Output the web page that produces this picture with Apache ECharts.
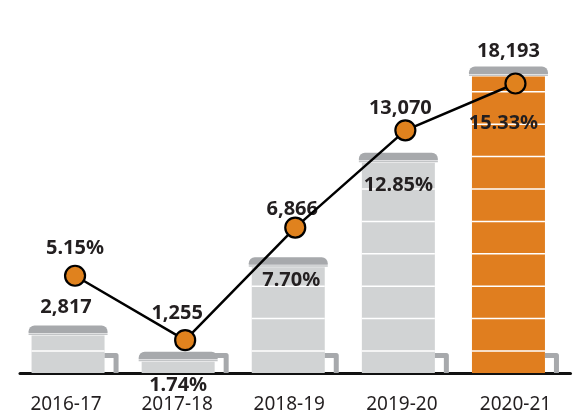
<!DOCTYPE html>
<html>
<head>
<meta charset="utf-8">
<script src="https://cdn.jsdelivr.net/npm/echarts@6/dist/echarts.min.js"></script>
<style>
  html, body { margin: 0; padding: 0; background: #fff; }
  #chart { width: 575px; height: 416px; }
</style>
</head>
<body>
<div id="chart"></div>
<script>
var years = ['2016-17', '2017-18', '2018-19', '2019-20', '2020-21'];
var students = [2817, 1255, 6866, 13070, 18193];
var shares = [5.15, 1.74, 7.70, 12.85, 15.33];

// label nudges in px, [dx, dy]
var countNudge = [[-9, -18], [-8, -39], [-3, -48], [-5, -45], [-7, -15]];
var shareNudge = [[0, -27], [-7, 45], [-4, 53], [-7, 55], [-12, 40]];
var yearPad = [18, 16, 12, 7, 0];

var ink = '#231f20';
var font = '"Noto Sans", sans-serif';

function renderCan(params, api) {
    var i = params.dataIndex;
    var top = api.coord([api.value(0), api.value(1)]);
    var base = api.coord([api.value(0), 0]);
    var band = api.size([1, 0])[0];
    var x = top[0] - band * 0.395;
    var w = band * 0.663;
    var y0 = top[1], y1 = base[1];
    var last = i === years.length - 1;
    var kids = [];

    // body
    kids.push({type: 'rect', shape: {x: x, y: y0 + 10, width: w, height: y1 - y0 - 10},
        style: {fill: last ? '#e07e1f' : '#d1d3d4'}});
    // stripes
    for (var s = y1 - 22; s > y0 + 14; s -= 32.4) {
        kids.push({type: 'line', shape: {x1: x, y1: s, x2: x + w, y2: s},
            style: {stroke: '#fff', lineWidth: 1.5}});
    }
    // lid
    kids.push({type: 'rect', shape: {x: x - 3, y: y0, width: w + 6, height: 7.5, r: [6, 6, 0, 0]},
        style: {fill: '#a7a9ac'}});
    kids.push({type: 'rect', shape: {x: x - 3, y: y0 + 8, width: w + 6, height: 1.5},
        style: {fill: '#c2c4c6'}});
    // handle
    var hx = x + w + 11.5, hy = y1 - 17.5;
    kids.push({type: 'polyline', shape: {points: [[x + w, hy], [hx, hy], [hx, y1]]},
        style: {stroke: '#a7a9ac', lineWidth: 5, fill: null, lineJoin: 'round'}});
    // value
    kids.push({type: 'text', x: top[0] + countNudge[i][0], y: y0 + countNudge[i][1],
        style: {text: api.value(1).toLocaleString('en-US'), fill: ink,
            fontSize: 20, fontWeight: 'bold', fontFamily: font,
            align: 'center', verticalAlign: 'middle'}});

    return {type: 'group', children: kids};
}

var rich = {};
yearPad.forEach(function (p, i) {
    rich['y' + i] = {padding: [0, p, 0, 0], fontSize: 19, fontFamily: font, color: ink, lineHeight: 20};
});

var myChart = echarts.init(document.getElementById('chart'));

var option = {
    animation: false,
    grid: {left: 20, right: 4.5, top: 0, bottom: 43},
    xAxis: {
        type: 'category',
        data: years,
        axisLine: {lineStyle: {color: '#111', width: 3}},
        axisTick: {show: false},
        axisLabel: {
            margin: 22,
            formatter: function (v, i) { return '{y' + i + '|' + v + '}'; },
            rich: rich
        }
    },
    yAxis: [
        {type: 'value', min: 0, max: 22140, show: false},
        {type: 'value', min: 0, max: 19.75, show: false}
    ],
    series: [
        {
            type: 'custom',
            renderItem: renderCan,
            data: students.map(function (v, i) { return [i, v]; }),
            encode: {x: 0, y: 1},
            silent: true
        },
        {
            type: 'line',
            yAxisIndex: 1,
            clip: false,
            data: shares.map(function (v, i) {
                return {value: v, label: {offset: shareNudge[i]}};
            }),
            symbol: 'circle',
            symbolSize: 20,
            lineStyle: {color: '#000', width: 2.5},
            itemStyle: {color: '#e0821e', borderColor: '#000', borderWidth: 2.2},
            label: {
                show: true,
                position: 'inside',
                formatter: function (p) { return p.value.toFixed(2) + '%'; },
                color: ink,
                fontSize: 20,
                fontWeight: 'bold',
                fontFamily: font
            },
            emphasis: {disabled: true},
            z: 3
        }
    ]
};

myChart.setOption(option);
</script>
</body>
</html>
